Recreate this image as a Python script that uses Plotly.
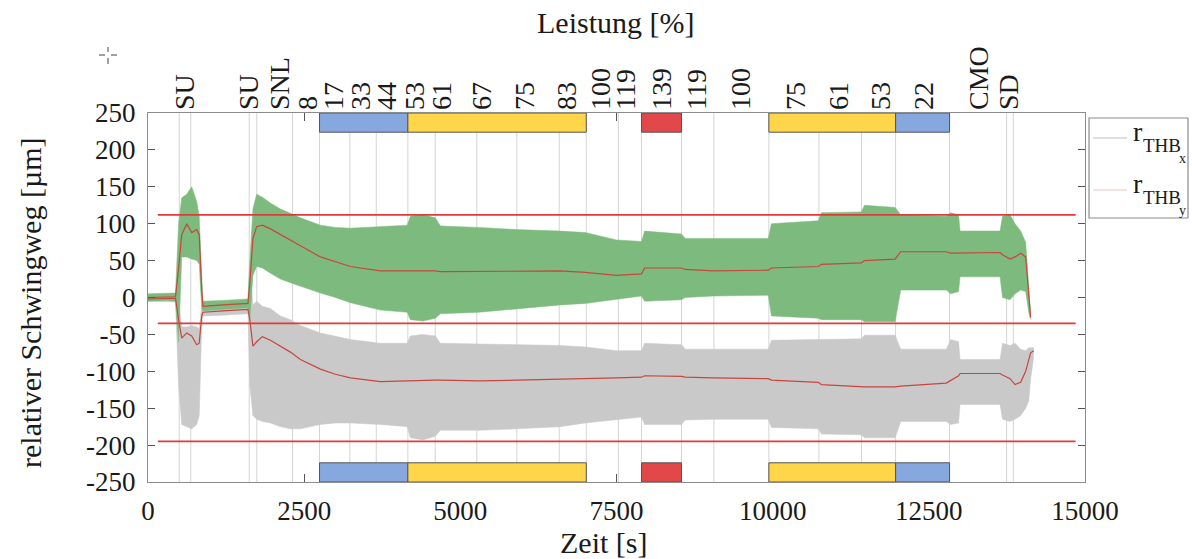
import plotly.graph_objects as go

# ---------------- data ----------------
# rTHB_x band (green): time [s], upper envelope, lower envelope, mean [µm]
t_x = [0, 300, 440, 490, 540, 620, 700, 780, 820, 860, 880, 1200, 1600,
       1630, 1680, 1740, 1830, 1960, 2120, 2280, 2440, 2760, 3000, 3240, 3720,
       4150, 4200, 4400, 4600, 4680, 5300, 5900, 6600, 7000, 7500, 7900, 7950,
       8540, 8600, 9050, 9930, 9980, 10730, 10780, 11420, 11470, 11960, 12050,
       12780, 12850, 12976, 13000, 13640, 13680, 13800, 13880, 13970, 14050,
       14100, 14130]
x_hi = [5, 5, 6, 100, 135, 140, 150, 130, 110, 30, -5, -4, -2,
        50, 120, 140, 136, 128, 120, 114, 108, 98, 95, 94, 96,
        98, 110, 112, 108, 97, 95, 92, 90, 88, 78, 76, 90,
        86, 80, 80, 80, 100, 104, 115, 116, 125, 122, 112,
        110, 115, 112, 90, 90, 110, 112, 100, 90, 75,
        20, -22]
x_lo = [-5, -4, -5, -60, 55, 55, 52, 50, 45, -15, -18, -16, -14,
        -30, 30, 42, 40, 33, 25, 20, 15, 6, 0, -7, -17,
        -20, -30, -32, -28, -22, -20, -15, -10, -8, -2, 2, -5,
        -3, 0, 2, 3, -25, -28, -30, -30, -33, -33, 10,
        10, 5, 8, 28, 28, 0, -3, 5, 10, 8,
        -20, -30]
x_mean = [0, 1, 1, 40, 85, 100, 88, 92, 85, 10, -12, -10, -8,
          20, 80, 96, 98, 93, 85, 78, 70, 55, 48, 42, 36,
          36, 37, 37, 36, 35, 35, 36, 36, 34, 30, 32, 40,
          40, 38, 36, 37, 40, 42, 45, 47, 50, 52, 62,
          62, 60, 60, 61, 61, 58, 52, 55, 60, 55,
          0, -27]

# rTHB_y band (grey)
t_y = t_x + [14180]
y_hi = [3, 4, 4, -5, -40, -40, -38, -40, -42, -10, -15, -14, -12,
        40, -10, -5, -12, -15, -25, -30, -38, -48, -53, -57, -62,
        -62, -52, -50, -52, -62, -63, -64, -65, -67, -72, -72, -62,
        -64, -70, -70, -70, -58, -57, -56, -56, -51, -51, -70,
        -70, -57, -60, -84, -84, -62, -65, -62, -70, -72,
        -68, -68, -68]
y_lo = [-5, -6, -6, -120, -172, -175, -178, -172, -160, -40, -25, -24, -22,
        -120, -160, -165, -168, -170, -175, -178, -178, -172, -170, -170, -172,
        -175, -190, -193, -188, -180, -180, -178, -175, -170, -165, -162, -172,
        -172, -166, -165, -165, -176, -178, -185, -186, -190, -190, -168,
        -168, -172, -170, -145, -145, -165, -168, -165, -160, -150,
        -140, -110, -80]
y_mean = [-2, -1, -1, -30, -55, -48, -52, -64, -62, -25, -20, -18, -16,
          -30, -66, -60, -53, -58, -66, -74, -84, -97, -104, -109, -114,
          -113, -112, -112, -112, -112, -113, -112, -111, -110, -109, -108, -106,
          -107, -108, -109, -110, -112, -115, -118, -120, -121, -121, -120,
          -116, -112, -106, -103, -103, -105, -110, -118, -115, -100,
          -85, -75, -72]

# limit lines [µm]
limit_levels = [112, -35, -195]
limit_start, limit_end = 157, 14850

# stage boundaries [s]
stage_lines = [500, 685, 1620, 1742, 2314, 2746, 3231, 3654, 4160, 4598, 5264,
               5905, 6583, 7016, 7530, 7901, 8541, 9059, 9939, 10740, 11423,
               11968, 12832, 13745, 13852]

# power labels (top axis)
label_times = [596, 1609, 2117, 2554, 2970, 3402, 3823, 4278, 4704, 5344, 6039,
               6705, 7250, 7645, 8232, 8793, 9486, 10367, 11060, 11728, 12421,
               13301, 13782]
label_text = ["SU", "SU", "SNL", "8", "17", "33", "44", "53", "61", "67", "75",
              "83", "100", "119", "139", "119", "100", "75", "61", "53", "22",
              "CMO", "SD"]

# coloured load blocks: start, end, colour
block_start = [2746, 4160, 7901, 9939, 11968]
block_end = [4160, 7016, 8541, 11968, 12832]
block_color = ["#86A8DE", "#FFD54A", "#E2474A", "#FFD54A", "#86A8DE"]

x_ticks = [0, 2500, 5000, 7500, 10000, 12500, 15000]
y_ticks = [250, 200, 150, 100, 50, 0, -50, -100, -150, -200, -250]

# ---------------- layout helpers ----------------
W, H = 1192, 559
L, R, T, B = 148, 1085, 113, 482
def xp(px):
    return (px - L) / (R - L)
def yp(py):
    return (B - py) / (B - T)

FONT = "Liberation Serif"
TXT = "#1a1a1a"
GREEN = "#7DBA7D"
GREY = "#C9C9C9"
MEANC = "#C8463E"
LIMC = "#E23A3A"

fig = go.Figure()

# grey band (y)
fig.add_trace(go.Scatter(x=t_y, y=y_lo, mode="lines", line=dict(width=0.5, color=GREY),
                         showlegend=False, hoverinfo="skip"))
fig.add_trace(go.Scatter(x=t_y, y=y_hi, mode="lines", line=dict(width=0.5, color=GREY),
                         fill="tonexty", fillcolor=GREY, showlegend=False, hoverinfo="skip"))
# green band (x)
fig.add_trace(go.Scatter(x=t_x, y=x_lo, mode="lines", line=dict(width=0.5, color=GREEN),
                         showlegend=False, hoverinfo="skip"))
fig.add_trace(go.Scatter(x=t_x, y=x_hi, mode="lines", line=dict(width=0.5, color=GREEN),
                         fill="tonexty", fillcolor=GREEN, showlegend=False, hoverinfo="skip"))
# mean lines
fig.add_trace(go.Scatter(x=t_x, y=x_mean, mode="lines", line=dict(width=1.2, color=MEANC),
                         showlegend=False, hoverinfo="skip"))
fig.add_trace(go.Scatter(x=t_y, y=y_mean, mode="lines", line=dict(width=1.2, color=MEANC),
                         showlegend=False, hoverinfo="skip"))
# limit lines
for lv in limit_levels:
    fig.add_trace(go.Scatter(x=[limit_start, limit_end], y=[lv, lv], mode="lines",
                             line=dict(width=1.6, color=LIMC), showlegend=False,
                             hoverinfo="skip"))

# dummy trace for top axis
fig.add_trace(go.Scatter(x=[0, 15000], y=[None, None], xaxis="x2", showlegend=False,
                         hoverinfo="skip"))

shapes = []
for t in stage_lines:
    shapes.append(dict(type="line", xref="x", yref="y", x0=t, x1=t, y0=-250, y1=250,
                       line=dict(color="#D4D4D4", width=1), layer="below"))
for s, e, c in zip(block_start, block_end, block_color):
    for y0, y1 in [(224, 250), (-250, -224)]:
        shapes.append(dict(type="rect", xref="x", yref="y", x0=s, x1=e, y0=y0, y1=y1,
                           fillcolor=c, line=dict(color="#555555", width=1), layer="above"))

# legend box
shapes.append(dict(type="rect", xref="paper", yref="paper", x0=xp(1089), x1=xp(1188),
                   y0=yp(218), y1=yp(118), line=dict(color="#8C8C8C", width=1.2),
                   fillcolor="white"))
shapes.append(dict(type="line", xref="paper", yref="paper", x0=xp(1093), x1=xp(1127),
                   y0=yp(138), y1=yp(138), line=dict(color="#BDBDBD", width=1)))
shapes.append(dict(type="line", xref="paper", yref="paper", x0=xp(1093), x1=xp(1127),
                   y0=yp(190), y1=yp(190), line=dict(color="#EBC4C4", width=1)))

# small crosshair glyph
for (a, b, c, d) in [(99, 55, 105, 55), (111, 55, 117, 55), (108, 47, 108, 52), (108, 58, 108, 64)]:
    shapes.append(dict(type="line", xref="paper", yref="paper", x0=xp(a), x1=xp(c),
                       y0=yp(b), y1=yp(d), line=dict(color="#444444", width=1)))

annotations = [
    dict(text="Leistung [%]", x=xp(615), y=yp(22), xref="paper", yref="paper",
         showarrow=False, font=dict(family=FONT, size=30, color=TXT),
         xanchor="center", yanchor="middle"),
    dict(text="Zeit [s]", x=xp(603), y=yp(542), xref="paper", yref="paper",
         showarrow=False, font=dict(family=FONT, size=30, color=TXT),
         xanchor="center", yanchor="middle"),
    dict(text="relativer Schwingweg [µm]", x=xp(30), y=yp(303), xref="paper", yref="paper",
         showarrow=False, textangle=-90, font=dict(family=FONT, size=30, color=TXT),
         xanchor="center", yanchor="middle"),
]
for yy, sub in [(0, "x"), (52, "y")]:
    annotations.append(dict(text="r", x=xp(1131), y=yp(131 + yy), xref="paper", yref="paper",
                            showarrow=False, font=dict(family=FONT, size=28, color=TXT),
                            xanchor="left", yanchor="middle"))
    annotations.append(dict(text="THB", x=xp(1141), y=yp(145 + yy), xref="paper", yref="paper",
                            showarrow=False, font=dict(family=FONT, size=19, color=TXT),
                            xanchor="left", yanchor="middle"))
    annotations.append(dict(text=sub, x=xp(1177), y=yp(158 + yy), xref="paper", yref="paper",
                            showarrow=False, font=dict(family=FONT, size=14, color=TXT),
                            xanchor="left", yanchor="middle"))

fig.update_layout(
    width=W, height=H,
    margin=dict(l=L, r=W - R, t=T, b=H - B, pad=0),
    paper_bgcolor="white", plot_bgcolor="white",
    showlegend=False,
    font=dict(family=FONT, size=26, color=TXT),
    xaxis=dict(range=[0, 15000], tickvals=x_ticks, ticktext=[str(v) for v in x_ticks],
               ticks="inside", ticklen=8, tickcolor="#555555", showline=True,
               linecolor="#8C8C8C", linewidth=1.2, mirror="ticks", showgrid=False,
               zeroline=False, tickfont=dict(family=FONT, size=27, color=TXT),
               ticklabelstandoff=4),
    xaxis2=dict(range=[0, 15000], overlaying="x", side="top", tickvals=label_times,
                ticktext=label_text, tickangle=-90, ticks="", showline=False,
                showgrid=False, zeroline=False,
                tickfont=dict(family=FONT, size=28, color=TXT),
                ticklabelstandoff=2),
    yaxis=dict(range=[-250, 250], tickvals=y_ticks, ticktext=[str(v) for v in y_ticks],
               ticks="inside", ticklen=7,
               tickcolor="#555555", showline=True, linecolor="#8C8C8C", linewidth=1.2,
               mirror="ticks", showgrid=False, zeroline=False,
               tickfont=dict(family=FONT, size=27, color=TXT),
               ticklabelstandoff=6),
    shapes=shapes,
    annotations=annotations,
)

fig.write_html("out.html")
